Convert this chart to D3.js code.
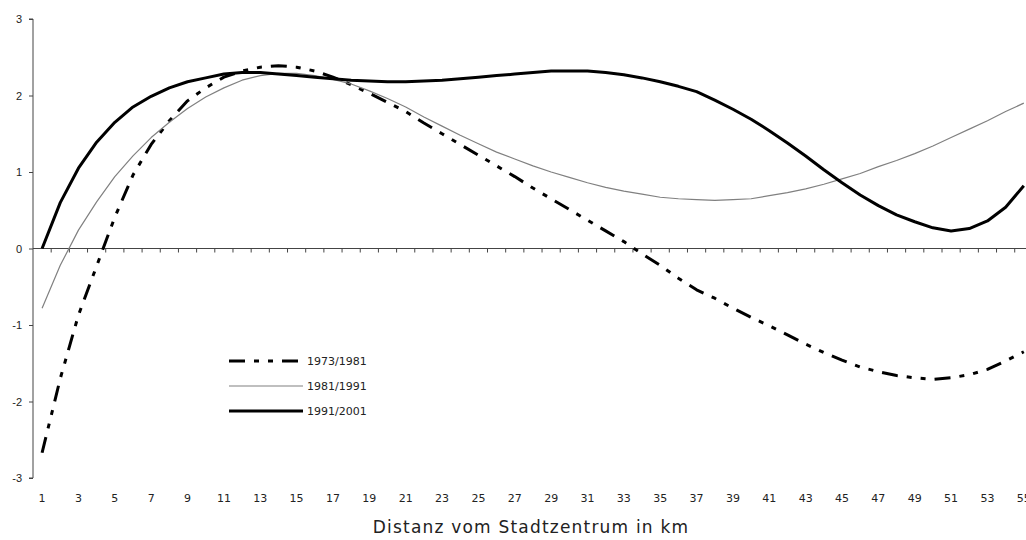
<!DOCTYPE html>
<html>
<head>
<meta charset="utf-8">
<script src="https://cdn.jsdelivr.net/npm/d3@7"></script>
<style>
  body { margin: 0; background: #fff; }
  svg { display: block; font-family: "DejaVu Sans", sans-serif; }
</style>
</head>
<body>
<svg id="chart"></svg>
<script>
// distance from city centre, km (categories)
var categories = d3.range(1, 56)

var series7381 = [-2.67, -1.70, -0.87, -0.23, 0.41, 0.96, 1.36, 1.67, 1.93, 2.10,
  2.24, 2.32, 2.37, 2.39, 2.37, 2.32, 2.24, 2.14, 2.03, 1.91,
  1.79, 1.64, 1.50, 1.36, 1.22, 1.08, 0.94, 0.79, 0.65, 0.51,
  0.37, 0.23, 0.09, -0.07, -0.22, -0.39, -0.54, -0.65, -0.78, -0.90,
  -1.01, -1.13, -1.25, -1.36, -1.46, -1.55, -1.61, -1.66, -1.69, -1.71,
  -1.69, -1.65, -1.58, -1.47, -1.35]

var series8191 = [-0.78, -0.22, 0.24, 0.61, 0.94, 1.21, 1.45, 1.65, 1.83, 1.98,
  2.10, 2.20, 2.26, 2.29, 2.29, 2.26, 2.21, 2.15, 2.06, 1.96,
  1.85, 1.72, 1.60, 1.48, 1.37, 1.26, 1.17, 1.08, 1.00, 0.93,
  0.86, 0.80, 0.75, 0.71, 0.67, 0.65, 0.64, 0.63, 0.64, 0.65,
  0.69, 0.73, 0.78, 0.84, 0.91, 0.98, 1.07, 1.15, 1.24, 1.34,
  1.45, 1.56, 1.67, 1.79, 1.90]

var series9101 = [0.00, 0.60, 1.05, 1.39, 1.65, 1.85, 1.99, 2.10, 2.18, 2.23,
  2.28, 2.30, 2.30, 2.28, 2.26, 2.24, 2.22, 2.20, 2.19, 2.18,
  2.18, 2.19, 2.20, 2.22, 2.24, 2.26, 2.28, 2.30, 2.32, 2.32,
  2.32, 2.30, 2.27, 2.23, 2.18, 2.12, 2.05, 1.94, 1.82, 1.69,
  1.54, 1.38, 1.21, 1.03, 0.86, 0.70, 0.56, 0.44, 0.35, 0.27,
  0.23, 0.26, 0.36, 0.54, 0.82]

var seriesNames = ['1973/1981', '1981/1991', '1991/2001']
var yTicks = [-3, -2, -1, 0, 1, 2, 3]
var xTitle = 'Distanz vom Stadtzentrum in km'

var outerWidth = 1026, outerHeight = 540
var margins = {top: 19, left: 33}
var bandW = 18.18
var innerHeight = 459

var svg = d3.select('svg#chart')
    .attr('width', outerWidth)
    .attr('height', outerHeight)

var xScale = d3.scaleBand()
    .domain(categories)
    .range([margins.left, margins.left + categories.length * bandW])
    .padding(0)

var yScale = d3.scaleLinear()
    .domain([-3, 3])
    .range([margins.top + innerHeight, margins.top])

function xc(c) { return xScale(c) + xScale.bandwidth() / 2 }

// y axis (plain hyphen for negatives, like the original)
var yAxis = d3.axisLeft(yScale)
    .tickValues(yTicks)
    .tickFormat(function(d) { return String(d) })
    .tickSize(4)
    .tickPadding(7)
var gy = svg.append('g')
    .attr('transform', 'translate(' + margins.left + ',0)')
    .attr('font-family', null)
    .call(yAxis)
gy.select('.domain').attr('stroke', '#444').attr('d', 'M-4,' + yScale(3) + 'H0V' + yScale(-3) + 'H-4')
gy.selectAll('.tick line').attr('stroke', '#444')
gy.selectAll('.tick text').attr('font-size', 11).attr('fill', '#222')

// x axis line on zero, ticks between categories
var y0 = yScale(0)
svg.append('line')
    .attr('x1', margins.left).attr('x2', outerWidth)
    .attr('y1', y0).attr('y2', y0)
    .attr('stroke', '#444')
svg.append('g').selectAll('line')
    .data(categories.slice(1))
    .join('line')
    .attr('x1', function(d) { return xScale(d) })
    .attr('x2', function(d) { return xScale(d) })
    .attr('y1', y0).attr('y2', y0 + 4)
    .attr('stroke', '#444')

// category labels at the bottom (every second one)
var xAxis = d3.axisBottom(xScale)
    .tickValues(categories.filter(function(d) { return d % 2 === 1 }))
    .tickSize(0).tickPadding(0)
var gx = svg.append('g')
    .attr('transform', 'translate(0,494)')
    .call(xAxis)
gx.attr('font-family', null)
gx.select('.domain').remove()
gx.selectAll('.tick text').attr('font-size', 11).attr('fill', '#222')

svg.append('text')
    .attr('x', 531)
    .attr('y', 533)
    .attr('text-anchor', 'middle')
    .attr('font-size', 17)
    .attr('letter-spacing', 1.2)
    .attr('fill', '#222')
    .text(xTitle)

// lines
var styles = [
  {stroke: '#000', width: 3, dash: '16,9,5,9,5,9'},
  {stroke: '#808080', width: 1.2, dash: null},
  {stroke: '#000', width: 3, dash: null}
]
var allSeries = [series7381, series8191, series9101]

var line = d3.line()
    .x(function(d, i) { return xc(categories[i]) })
    .y(function(d) { return yScale(d) })

allSeries.forEach(function(s, i) {
  svg.append('path')
      .datum(s)
      .attr('d', line)
      .attr('fill', 'none')
      .attr('stroke', styles[i].stroke)
      .attr('stroke-width', styles[i].width)
      .attr('stroke-dasharray', styles[i].dash)
      .attr('stroke-linejoin', 'round')
})

// legend
var legend = svg.append('g').attr('transform', 'translate(229,361)')
seriesNames.forEach(function(name, i) {
  var ly = i * 25
  legend.append('line')
      .attr('x1', 0).attr('x2', 74)
      .attr('y1', ly).attr('y2', ly)
      .attr('stroke', styles[i].stroke)
      .attr('stroke-width', styles[i].width)
      .attr('stroke-dasharray', styles[i].dash)
  legend.append('text')
      .attr('x', 78).attr('y', ly + 4)
      .attr('font-size', 11)
      .attr('fill', '#222')
      .text(name)
})
</script>
</body>
</html>
